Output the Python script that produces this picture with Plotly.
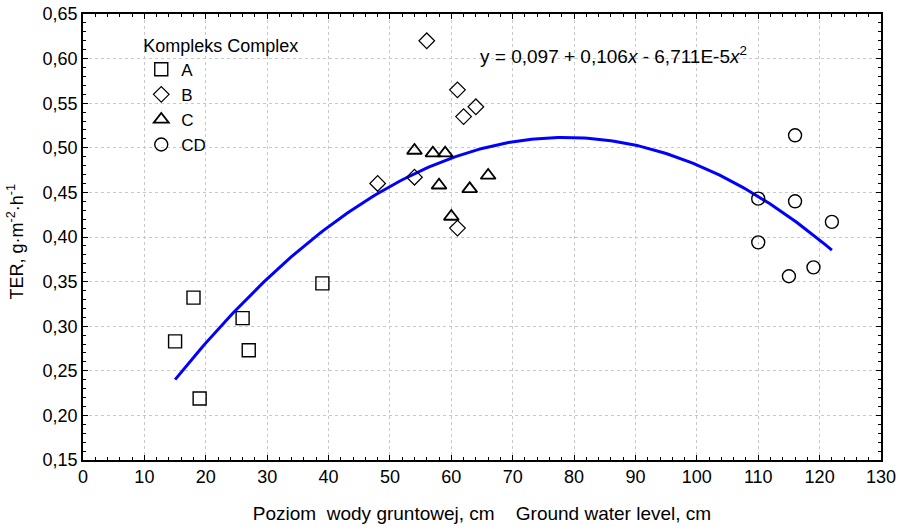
import numpy as np
import plotly.graph_objects as go

# Data
a_x = [15, 18, 19, 26, 27, 39]
a_y = [0.283, 0.332, 0.219, 0.309, 0.273, 0.348]
b_x = [48, 54, 56, 61, 62, 64, 61]
b_y = [0.460, 0.467, 0.620, 0.565, 0.535, 0.546, 0.410]
c_x = [54, 57, 59, 58, 60, 63, 66]
c_y = [0.497, 0.494, 0.494, 0.458, 0.423, 0.454, 0.469]
cd_x = [110, 110, 116, 116, 115, 119, 122]
cd_y = [0.443, 0.394, 0.514, 0.440, 0.356, 0.366, 0.417]

# Fit coefficients (y = a + b x + c x^2), as printed on the chart (b = 0.0106 rounded)
fit_a, fit_b, fit_c = 0.097, 0.01055, -6.711e-5
fit_range = [15, 122]

FONT = "Liberation Sans, Arial"
FS = 18

fig = go.Figure()

fx = np.linspace(fit_range[0], fit_range[1], 200)
fy = fit_a + fit_b * fx + fit_c * fx ** 2
fig.add_trace(go.Scatter(x=fx, y=fy, mode="lines", line=dict(color="#0000FF", width=3),
                         showlegend=False, hoverinfo="skip"))

series = [("A", a_x, a_y, "square-open", 13, 1.4),
          ("B", b_x, b_y, "diamond-open", 12, 1.2),
          ("C", c_x, c_y, "triangle-up-open", 13, 1.8),
          ("CD", cd_x, cd_y, "circle-open", 13, 1.4)]
for name, xs, ys, sym, sz, lw in series:
    fig.add_trace(go.Scatter(x=xs, y=ys, mode="markers", name=name,
                             marker=dict(symbol=sym, size=sz, color="black",
                                         line=dict(width=lw, color="black"))))

fig.add_annotation(x=86.4, y=0.604, xref="x", yref="y", showarrow=False,
                   text="y = 0,097 + 0,106<i>x</i> - 6,711E-5<i>x</i><sup>2</sup>",
                   font=dict(size=19, color="black", family=FONT))

# y-axis title as a rotated annotation (placed further left than a standoff allows)
fig.add_annotation(x=-0.084, y=0.49, xref="paper", yref="paper", showarrow=False,
                   textangle=-90, xanchor="center", yanchor="middle",
                   text="TER, g·m<sup>-2</sup>·h<sup>-1</sup>",
                   font=dict(size=FS, color="black", family=FONT))

axis_common = dict(showline=True, linecolor="black", linewidth=1.5, mirror="allticks",
                   ticks="inside", ticklen=5, tickwidth=1.2, tickcolor="black",
                   showgrid=True, gridcolor="#c8c8c8", griddash="dot", gridwidth=1,
                   zeroline=False, tickfont=dict(size=FS, color="black"), automargin=False)

fig.update_xaxes(range=[0, 130], dtick=10, tick0=0,
                 minor=dict(dtick=2, ticks="inside", ticklen=3, tickcolor="black", showgrid=False),
                 title=dict(text="Poziom  wody gruntowej, cm    Ground water level, cm",
                            font=dict(size=19, color="black"), standoff=20),
                 **axis_common)
fig.update_yaxes(range=[0.15, 0.65], dtick=0.05, tick0=0.15, tickformat=".2f",
                 minor=dict(dtick=0.01, ticks="inside", ticklen=3, tickcolor="black", showgrid=False),
                 **axis_common)

fig.update_layout(
    width=903, height=527,
    margin=dict(l=83, r=22, t=14, b=67),
    plot_bgcolor="white", paper_bgcolor="white",
    separators=", ",
    font=dict(family=FONT, size=FS, color="black"),
    legend=dict(x=0.073, y=0.968, xanchor="left", yanchor="top",
                bgcolor="rgba(0,0,0,0)", font=dict(size=17),
                title=dict(text="Kompleks Complex", font=dict(size=FS))),
)

fig.write_html("out.html", config={"displayModeBar": False},
               post_script="document.body.style.margin='0';document.body.style.padding='0';")
